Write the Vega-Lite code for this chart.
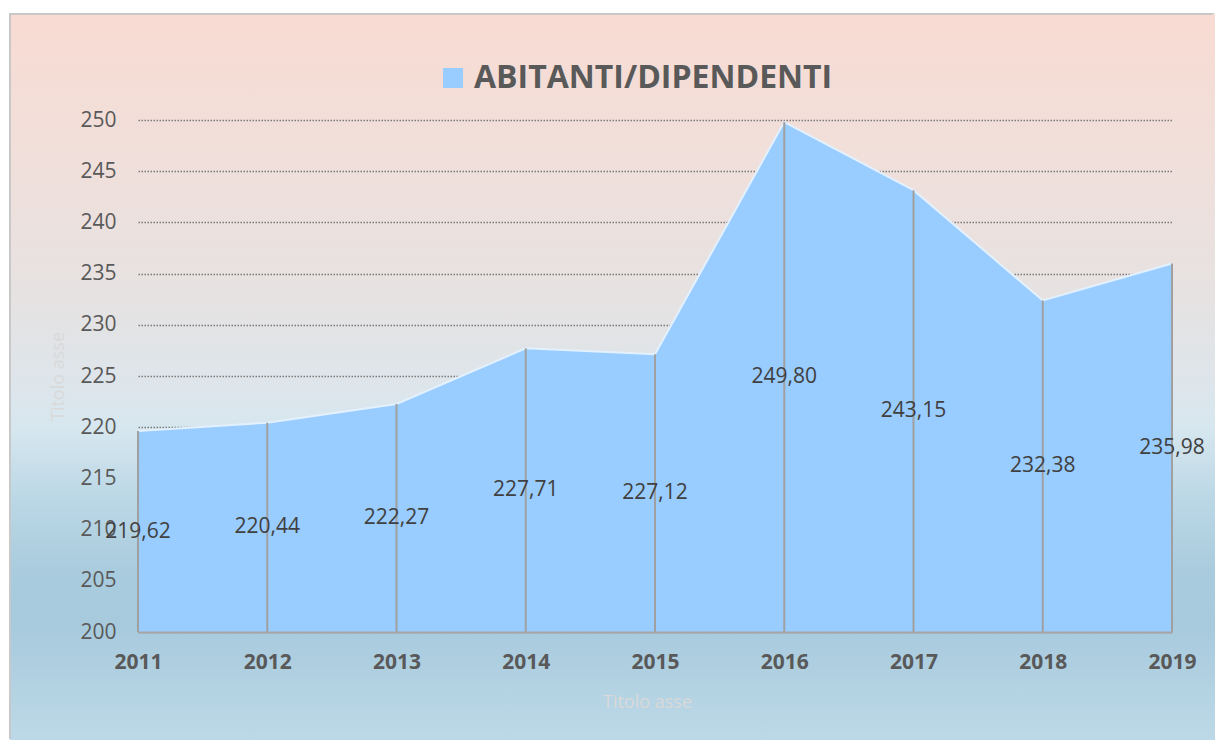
{
  "$schema": "https://vega.github.io/schema/vega-lite/v6.json",
  "autosize": "none",
  "width": 1205,
  "height": 726,
  "padding": {"left": 10, "top": 14, "right": 0, "bottom": 0},
  "background": "#ffffff",
  "config": {
    "font": "Open Sans",
    "locale": {"number": {"decimal": ",", "thousands": ".", "grouping": [3], "currency": ["", " €"]}},
    "view": {
      "fill": {
        "gradient": "linear", "x1": 0, "y1": 0, "x2": 0, "y2": 1,
        "stops": [
          {"offset": 0, "color": "#F8DBD3"},
          {"offset": 0.186, "color": "#F1DFDA"},
          {"offset": 0.39, "color": "#E6E2E2"},
          {"offset": 0.5, "color": "#DEE5EA"},
          {"offset": 0.568, "color": "#D7E7EF"},
          {"offset": 0.664, "color": "#BCD8E6"},
          {"offset": 0.773, "color": "#A8CBDD"},
          {"offset": 0.842, "color": "#A7CADD"},
          {"offset": 1, "color": "#BDD9E7"}
        ]
      },
      "stroke": {
        "gradient": "linear", "x1": 0, "y1": 0, "x2": 1, "y2": 1,
        "stops": [
          {"offset": 0, "color": "#C8C8C8"},
          {"offset": 0.499, "color": "#C8C8C8"},
          {"offset": 0.4995, "color": "rgba(200,200,200,0)"},
          {"offset": 1, "color": "rgba(200,200,200,0)"}
        ]
      },
      "strokeWidth": 2
    }
  },
  "data": {
    "values": [
      {"year": 2011, "value": 219.62},
      {"year": 2012, "value": 220.44},
      {"year": 2013, "value": 222.27},
      {"year": 2014, "value": 227.71},
      {"year": 2015, "value": 227.12},
      {"year": 2016, "value": 249.80},
      {"year": 2017, "value": 243.15},
      {"year": 2018, "value": 232.38},
      {"year": 2019, "value": 235.98}
    ]
  },
  "layer": [
    {
      "layer": [
        {
          "mark": {"type": "area", "opacity": 1},
          "encoding": {
            "x": {
              "field": "year", "type": "quantitative",
              "scale": {"domain": [2011, 2019], "range": [128, 1162], "nice": false, "zero": false},
              "axis": {
                "orient": "bottom", "offset": -108,
                "values": [2011, 2012, 2013, 2014, 2015, 2016, 2017, 2018, 2019],
                "format": "d",
                "domain": true, "domainColor": "#A6A6A6", "domainWidth": 2,
                "ticks": false, "grid": false,
                "labelFont": "Open Sans", "labelFontSize": 21, "labelFontWeight": "bold", "labelColor": "#595959",
                "labelPadding": 19, "labelFlush": false, "labelOverlap": false,
                "title": "Titolo asse", "titleFont": "Open Sans", "titleFontSize": 18, "titleFontWeight": "normal",
                "titleColor": "#D9D9D9", "titlePadding": 21, "titleX": 637,
                "zindex": 1
              }
            },
            "y": {
              "field": "value", "type": "quantitative",
              "scale": {"domain": [200, 250], "range": [618, 106], "nice": false, "zero": false},
              "axis": {
                "orient": "left", "offset": -128,
                "values": [200, 205, 210, 215, 220, 225, 230, 235, 240, 245, 250],
                "format": "d",
                "domain": false, "ticks": false,
                "grid": true, "gridDash": [1.5, 1.5], "gridColor": "#7A7A7A", "gridWidth": 1.5,
                "labelFont": "Open Sans", "labelFontSize": 21, "labelColor": "#595959",
                "labelPadding": 22, "labelFlush": false, "labelOverlap": false,
                "title": "Titolo asse", "titleFont": "Open Sans", "titleFontSize": 18, "titleFontWeight": "normal",
                "titleColor": "#D9D9D9", "titlePadding": 12,
                "zindex": 0
              }
            },
            "y2": {"datum": 200},
            "color": {
              "datum": "ABITANTI/DIPENDENTI",
              "scale": {"range": ["#99CCFF"]},
              "legend": {
                "orient": "none", "legendX": 427, "legendY": 48,
                "title": null, "padding": 0,
                "symbolType": "square", "symbolSize": 400, "symbolStrokeWidth": 0, "symbolOpacity": 1,
                "labelFont": "Open Sans", "labelFontSize": 32, "labelFontWeight": "bold", "labelColor": "#595959",
                "labelOffset": 5, "labelLimit": 1000
              }
            }
          }
        },
        {
          "mark": {"type": "line", "color": "#E3F1FF", "strokeWidth": 2},
          "encoding": {
            "x": {"field": "year", "type": "quantitative"},
            "y": {"field": "value", "type": "quantitative"}
          }
        },
        {
          "mark": {"type": "rule", "color": "#A0A0A0", "strokeWidth": 2},
          "encoding": {
            "x": {"field": "year", "type": "quantitative"},
            "y": {"field": "value", "type": "quantitative"},
            "y2": {"datum": 200}
          }
        }
      ]
    },
    {
      "mark": {"type": "text", "font": "Open Sans", "fontSize": 21, "color": "#404040", "align": "center", "baseline": "middle"},
      "encoding": {
        "x": {"field": "year", "type": "quantitative"},
        "y": {
          "field": "value", "type": "quantitative",
          "scale": {"domain": [200, 300], "range": [618, 106], "nice": false, "zero": false},
          "axis": null
        },
        "text": {"field": "value", "type": "quantitative", "format": ".2f"}
      }
    }
  ],
  "resolve": {"scale": {"y": "independent"}}
}
